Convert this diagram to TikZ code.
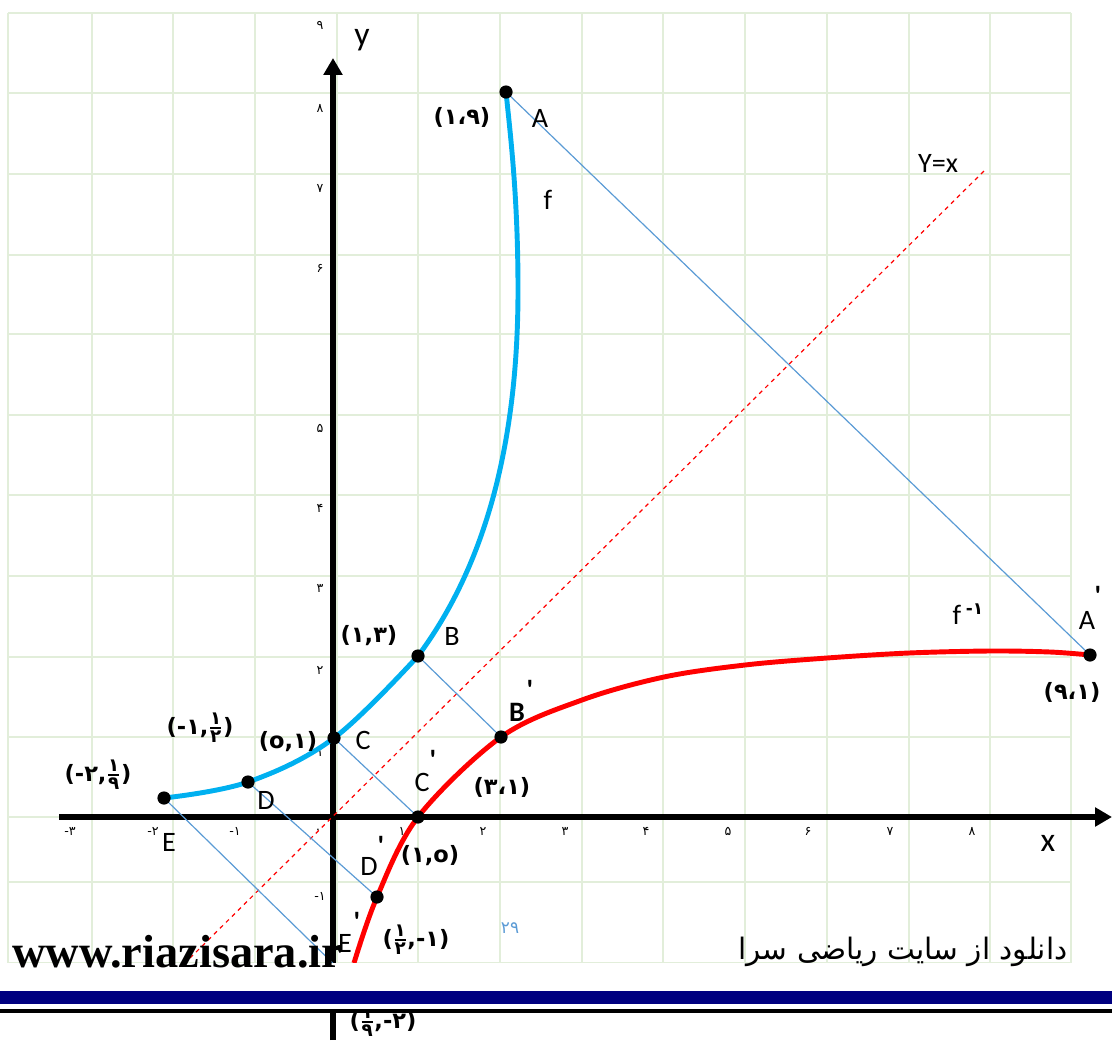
\documentclass[tikz,border=0pt]{standalone}
\usepackage{amsmath}
\usepackage{fontspec}
\setmainfont{Carlito}
\newfontfamily\fafont[Script=Arabic]{DejaVu Sans}
\newfontfamily\numfont{DejaVu Sans}
\newfontfamily\wwwfont{Liberation Serif}
\TeXXeTstate=1
\usepackage{tikz}
\usetikzlibrary{arrows.meta}

\definecolor{gridgreen}{RGB}{226,238,218}
\definecolor{fblue}{RGB}{0,176,240}
\definecolor{linkblue}{RGB}{91,155,213}
\definecolor{bandnavy}{RGB}{0,0,128}

\newcommand{\pfrac}[2]{\ensuremath{\genfrac{}{}{1.4pt}{}{\mbox{\fontsize{13}{13}\selectfont #1}}{\mbox{\fontsize{13}{13}\selectfont #2}}}}

\begin{document}
\begin{tikzpicture}[x=0.025cm, y=-0.025cm,
  dot/.style={circle, fill=black, inner sep=0pt, minimum size=0.33cm},
  lbl/.style={font=\fontsize{20}{22}\selectfont, inner sep=1pt},
  prime/.style={font=\bfseries\fontsize{20}{22}\selectfont, inner sep=1pt},
  coord/.style={font=\numfont\bfseries\fontsize{16}{18}\selectfont, inner sep=1pt},
  tick/.style={font=\numfont\fontsize{9}{10}\selectfont, inner sep=0pt},
  link/.style={linkblue, line width=0.85pt},
  axis/.style={line width=4.3pt, -{Triangle[length=12pt,width=13pt]}}]
\useasboundingbox (0,0) rectangle (1112,1040);

% grid
\foreach \gx in {8,92,173,255,337,418,500,582,663,745,827,909,990,1071}
  \draw[gridgreen, line width=1.4pt] (\gx,13) -- (\gx,963);
\foreach \gy in {13,93,174,255,334,415,495,576,657,737,817,882,963}
  \draw[gridgreen, line width=1.4pt] (8,\gy) -- (1071,\gy);

% axes
\draw[axis] (59,817) -- (1112,817);
\draw[axis] (333,1040) -- (333,58);
\node[lbl, font=\fontsize{24}{26}\selectfont] (xlab) at (1048,843) {x};
\node[lbl, font=\fontsize{24}{26}\selectfont] (ylab) at (362,40) {y};

% tick numbers
\foreach \tx/\tl in {70/-۳,153/-۲,235/-۱,318/۰,402/۱,483/۲,565/۳,646/۴,728/۵,808/۶,890/۷,972/۸}
  \node[tick] (tx\tx) at (\tx,831) {\tl};
\foreach \ty/\tl in {25/۹,108/۸,188/۷,268/۶,428/۵,508/۴,588/۳,670/۲,752/۱,896/-۱}
  \node[tick] (ty\ty) at (320,\ty) {\tl};

% points of f and of its inverse
\coordinate (A) at (506,92);
\coordinate (B) at (418,656);
\coordinate (C) at (334,738);
\coordinate (D) at (248,782);
\coordinate (E) at (164,798);
\coordinate (Ai) at (1090,655);
\coordinate (Bi) at (501,737);
\coordinate (Ci) at (418,817);
\coordinate (Di) at (377,897);
\coordinate (Ei) at (350,980);

% Y=x
\coordinate (diagS) at (184,964);
\coordinate (diagN) at (985,170);
\draw[red, line width=0.85pt, dash pattern=on 3pt off 3pt] (diagS) -- (diagN);
\node[lbl] (yx) at (938,163) {Y=x};

% mirror links
\draw[link] (A) -- (Ai);
\draw[link] (B) -- (Bi);
\draw[link] (C) -- (Ci);
\draw[link] (D) -- (Di);
\draw[link] (E) -- (Ei);

% f
\draw[fblue, line width=3.5pt] plot[smooth, tension=0.6] coordinates {(E) (D) (C) (B)}
  .. controls (473,582) and (518,470) .. (518,290)
  .. controls (518,200) and (511,140) .. (A);
% f^-1
\draw[red, line width=3.5pt] plot[smooth, tension=0.55] coordinates {(354,963) (Di) (Ci) (Bi) (582,700) (664,677) (745,665) (827,658) (909,653) (990,651) (1050,652) (Ai)};

\foreach \p in {A,B,C,D,E,Ai,Bi,Ci,Di}
  \node[dot] (dot\p) at (\p) {};

% labels
\node[lbl] (lA) at (540,118) {A};
\node[coord] (cA) at (462,117) {(۱،۹)};
\node[lbl] (lf) at (548,200) {f};
\node[lbl] (lB) at (452,636) {B};
\node[coord] (cB) at (369,636) {(۱,۳)};
\node[prime] (lBi) at (517,712) {B};
\node[prime] (pBi) at (530,690) {\textquotesingle};
\node[coord] (cBi) at (502,787) {(۳،۱)};
\node[lbl] (lC) at (363,740) {C};
\node[coord] (cC) at (288,742) {(o,۱)};
\node[lbl] (lCi) at (422,782) {C};
\node[prime] (pCi) at (433,760) {\textquotesingle};
\node[coord] (cCi) at (430,856) {(۱,o)};
\node[lbl] (lD) at (266,800) {D};
\node[coord] (cD) at (200,728) {(-۱,\pfrac{۱}{۲})};
\node[lbl] (lDi) at (369,866) {D};
\node[prime] (pDi) at (381,846) {\textquotesingle};
\node[coord] (cDi) at (416,940) {(\pfrac{۱}{۲},-۱)};
\node[lbl] (lE) at (169,842) {E};
\node[coord] (cE) at (98,775) {(-۲,\pfrac{۱}{۹})};
\node[lbl] (lEi) at (345,943) {E};
\node[prime] (pEi) at (357,922) {\textquotesingle};
\node[lbl] (lAi) at (1087,620) {A};
\node[prime] (pAi) at (1098,596) {\textquotesingle};
\node[coord] (cAi) at (1072,692) {(۹،۱)};
\node[lbl] (finv) at (968,614) {f\,\raisebox{7pt}{\numfont\bfseries\fontsize{12}{12}\selectfont -۱}};
\node[coord] (cEi) at (383,1022) {(\pfrac{۱}{۹},-۲)};
\node[font=\numfont\fontsize{12}{12}\selectfont, text=linkblue] (page) at (510,928) {۲۹};

% footer
\fill[white] (0,963) rectangle (1112,1010);
\fill[bandnavy] (0,991) rectangle (1112,1004);
\draw[line width=2.2pt] (0,1011) -- (1112,1011);
\node[anchor=base west, inner sep=0pt, font=\wwwfont\bfseries\fontsize{33}{36}\selectfont] (www) at (12,967) {www.riazisara.ir};
\node[font=\fafont\fontsize{21}{23}\selectfont] (site) at (903,952) {\beginR دانلود از سایت ریاضی سرا\endR};
\end{tikzpicture}
\end{document}
